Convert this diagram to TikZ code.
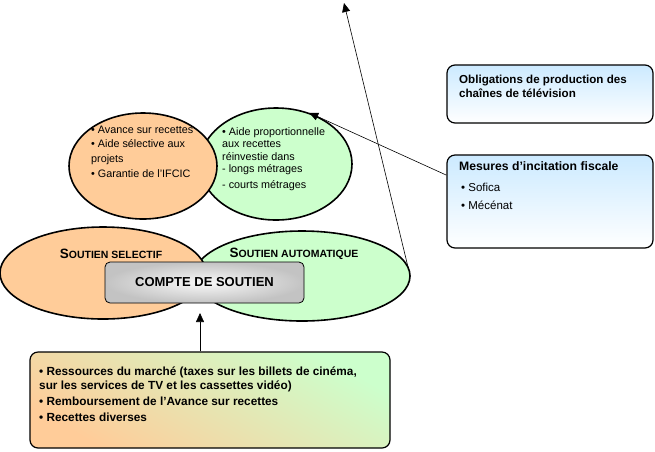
\documentclass[tikz,border=0pt]{standalone}
\usepackage{fontspec}
\setmainfont{Liberation Sans}
\usetikzlibrary{shapes.geometric,arrows.meta,calc,shadings}
\definecolor{peach}{RGB}{255,204,153}
\definecolor{mint}{RGB}{204,255,204}
\definecolor{skyb}{RGB}{204,234,255}
\definecolor{marble}{RGB}{195,195,195}
\tikzset{
  oval/.style={ellipse, draw=black, line width=1.6pt, inner sep=0pt},
  bluebox/.style={draw=black, line width=1.2pt, rounded corners=8pt, top color=skyb, bottom color=white, inner sep=0pt},
  txt/.style={inner sep=0pt, anchor=north west, align=left},
  conn/.style={draw=black, line width=0.6pt, -{Triangle[length=9pt,width=8pt]}},
}
\begin{document}
\begin{tikzpicture}[x=1pt,y=-1pt]
\useasboundingbox (0,0) rectangle (655,451);
% upper ellipses
\node[oval, fill=mint, minimum width=152pt, minimum height=112pt] (ug) at (276,164) {};
\node[oval, fill=peach, minimum width=148pt, minimum height=106pt] (uo) at (143,166) {};
% lower ellipses
\node[oval, fill=mint, minimum width=216pt, minimum height=90pt] (lg) at (302,276) {};
\node[oval, fill=peach, minimum width=206pt, minimum height=92pt] (lo) at (103,273) {};
% upper ellipse texts
\node[txt, font=\fontsize{10.8}{14.3}\selectfont] (uot) at (91,126)
  {• Avance sur recettes\\• Aide sélective aux\\projets\\[1pt]• Garantie de l'IFCIC};
\node[txt, font=\fontsize{10.8}{12.5}\selectfont] (ugt) at (222,127)
  {• Aide proportionnelle\\aux recettes\\réinvestie dans\\- longs métrages\\[3.5pt]- courts métrages};
% lower labels
\node[inner sep=0pt, font=\bfseries] (los) at (111,254)
  {{\fontsize{13.5}{15}\selectfont S}{\fontsize{10.5}{12}\selectfont OUTIEN SELECTIF}};
\node[inner sep=0pt, font=\bfseries] (lgs) at (294,254)
  {{\fontsize{13.5}{15}\selectfont S}{\fontsize{10.5}{12}\selectfont OUTIEN AUTOMATIQUE}};
% compte de soutien
\node[draw=black, line width=0.8pt, rounded corners=5pt, minimum width=199pt, minimum height=41pt,
  inner sep=0pt, shading=radial, inner color=white!90!marble, outer color=marble,
  font=\bfseries\fontsize{13}{15}\selectfont] (cds) at (204.5,282.5) {COMPTE DE SOUTIEN};
% blue boxes
\node[bluebox, minimum width=206pt, minimum height=58pt] (obl) at (550,94) {};
\node[txt, font=\bfseries\fontsize{11.6}{13.5}\selectfont] (oblt) at (459,75)
  {Obligations de production des\\chaînes de télévision};
\node[bluebox, minimum width=206pt, minimum height=93pt] (mes) at (550,201.5) {};
\node[txt, font=\bfseries\fontsize{12.2}{14}\selectfont] (mest) at (459,161)
  {Mesures d’incitation fiscale};
\node[txt, font=\fontsize{11.5}{18}\selectfont] (mesl) at (461,183)
  {• Sofica\\• Mécénat};
% bottom box
\node[draw=black, line width=1.2pt, rounded corners=8pt, minimum width=360pt, minimum height=96pt,
  inner sep=0pt, shading=axis, top color=mint, bottom color=peach, shading angle=-30] (bot) at (210,400) {};
\node[txt, font=\bfseries\fontsize{11.8}{16}\selectfont] (bott) at (39,367)
  {• Ressources du marché (taxes sur les billets de cinéma,\\[-2pt]sur les services de TV et les cassettes vidéo)\\• Remboursement de l’Avance sur recettes\\• Recettes diverses};
% connectors
\coordinate (topend) at (344,3);
\coordinate (btip) at (200,313);
\coordinate (lgstart) at (408,267);
\draw[conn] (lgstart) -- (topend);
\draw[conn] ($(mes.north west)!0.22!(mes.south west)$) -- (ug.57);
\draw[conn] (bot.north -| btip) -- (btip);
\end{tikzpicture}
\end{document}
